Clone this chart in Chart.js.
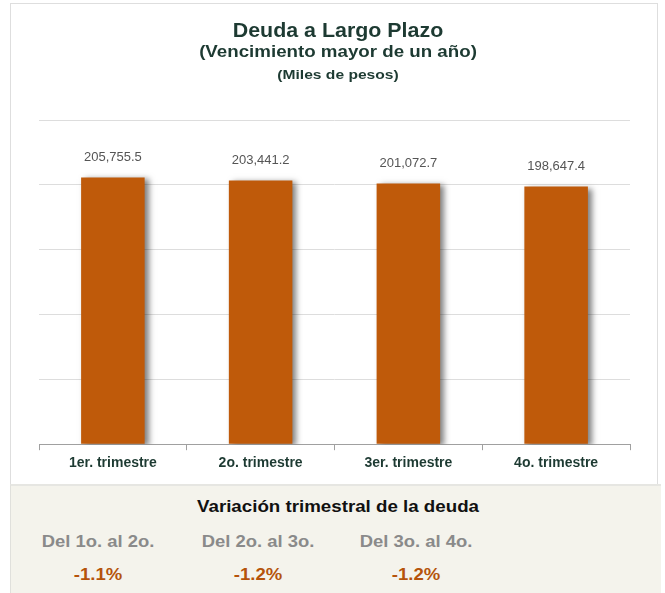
<!DOCTYPE html>
<html>
<head>
<meta charset="utf-8">
<script src="https://cdn.jsdelivr.net/npm/chart.js@4.4.1/dist/chart.umd.min.js"></script>
<style>
  html, body { margin: 0; padding: 0; background: #ffffff; width: 665px; height: 593px; overflow: hidden; font-family: "Liberation Sans", Arial, sans-serif; }
  #card { position: absolute; left: 10px; top: 3px; width: 646px; height: 481px; border: 1px solid #dedede; border-bottom: none; background: #fff; }
  #chartBox { position: absolute; left: 10px; top: 3px; width: 647px; height: 481px; }
  .p { position: absolute; font-weight: bold; white-space: nowrap; text-align: center; }
  #panel { position: absolute; left: 10px; top: 484px; width: 650px; height: 109px; background: #f4f3ec; border-top: 2px solid #e6e6e2; border-left: 1px solid #e0e0dc; }
</style>
</head>
<body>
<div id="card"></div>
<div id="chartBox"><canvas id="c" width="647" height="481"></canvas></div>
<div id="panel"></div>
<div id="texts"></div>
<script>
const categories = ["1er. trimestre", "2o. trimestre", "3er. trimestre", "4o. trimestre"];
const debtValues = [205755.5, 203441.2, 201072.7, 198647.4];
const yTicks = [0, 50000, 100000, 150000, 200000, 250000];
const titleLines = ["Deuda a Largo Plazo", "(Vencimiento mayor de un año)", "(Miles de pesos)"];
const variationTitle = "Variación trimestral de la deuda";
const variationLabels = ["Del 1o. al 2o.", "Del 2o. al 3o.", "Del 3o. al 4o."];
const variationValues = ["-1.1%", "-1.2%", "-1.2%"];

const holder = document.getElementById('texts');
function addText(txt, x, y, size, color, sx) {
  const d = document.createElement('div');
  d.className = 'p';
  d.textContent = txt;
  d.style.left = x + 'px';
  d.style.top = y + 'px';
  d.style.fontSize = size + 'px';
  d.style.color = color;
  d.style.transform = 'translate(-50%, -50%) scaleX(' + sx + ')';
  holder.appendChild(d);
}
addText(titleLines[0], 338, 30, 20, '#1d3a32', 1.07);
addText(titleLines[1], 338, 52, 16, '#1d3a32', 1.17);
addText(titleLines[2], 338, 74, 13, '#1d3a32', 1.2);
addText(variationTitle, 338, 507, 16, '#111111', 1.17);
const colX = [98, 258, 416];
variationLabels.forEach((s, i) => addText(s, colX[i], 542, 16, '#8a8a8a', 1.15));
variationValues.forEach((s, i) => addText(s, colX[i], 575, 17, '#b5530b', 1.09));

const shadowPlugin = {
  id: 'barShadow',
  beforeDatasetsDraw(chart) {
    const ctx = chart.ctx;
    ctx.save();
    ctx.shadowColor = 'rgba(0,0,0,0.5)';
    ctx.shadowOffsetX = 4;
    ctx.shadowOffsetY = 2;
    ctx.shadowBlur = 6;
  },
  afterDatasetsDraw(chart) {
    chart.ctx.restore();
    const ctx = chart.ctx;
    ctx.save();
    ctx.font = '13px "Liberation Sans", Arial, sans-serif';
    ctx.fillStyle = '#555555';
    ctx.textAlign = 'center';
    ctx.textBaseline = 'middle';
    const meta = chart.getDatasetMeta(0);
    meta.data.forEach((bar, i) => {
      const v = chart.data.datasets[0].data[i];
      const s = v.toLocaleString('en-US', { minimumFractionDigits: 1, maximumFractionDigits: 1 });
      ctx.fillText(s, bar.x, bar.y - 20);
    });
    ctx.restore();
  }
};

new Chart(document.getElementById('c'), {
  type: 'bar',
  data: {
    labels: categories,
    datasets: [{
      data: debtValues,
      backgroundColor: '#bf5a0a',
      borderWidth: 0,
      categoryPercentage: 1.0,
      barPercentage: 0.43
    }]
  },
  options: {
    responsive: false,
    animation: false,
    devicePixelRatio: 1,
    layout: { padding: { top: 117, left: 29, right: 27, bottom: 7 } },
    plugins: { legend: { display: false }, tooltip: { enabled: false }, title: { display: false } },
    scales: {
      y: {
        min: 0, max: 250000,
        afterBuildTicks(axis) { axis.ticks = yTicks.map(v => ({ value: v })); },
        ticks: { display: false },
        border: { display: false },
        grid: { color: '#dddddd', lineWidth: 1, drawTicks: false }
      },
      x: {
        border: { display: true, color: '#a0a0a0', width: 1 },
        grid: { offset: true, drawOnChartArea: false, color: '#a0a0a0', tickLength: 6 },
        ticks: { color: '#1d3a32', padding: 5, font: { family: '"Liberation Sans", Arial, sans-serif', size: 14, weight: 'bold' } }
      }
    }
  },
  plugins: [shadowPlugin]
});
</script>
</body>
</html>
